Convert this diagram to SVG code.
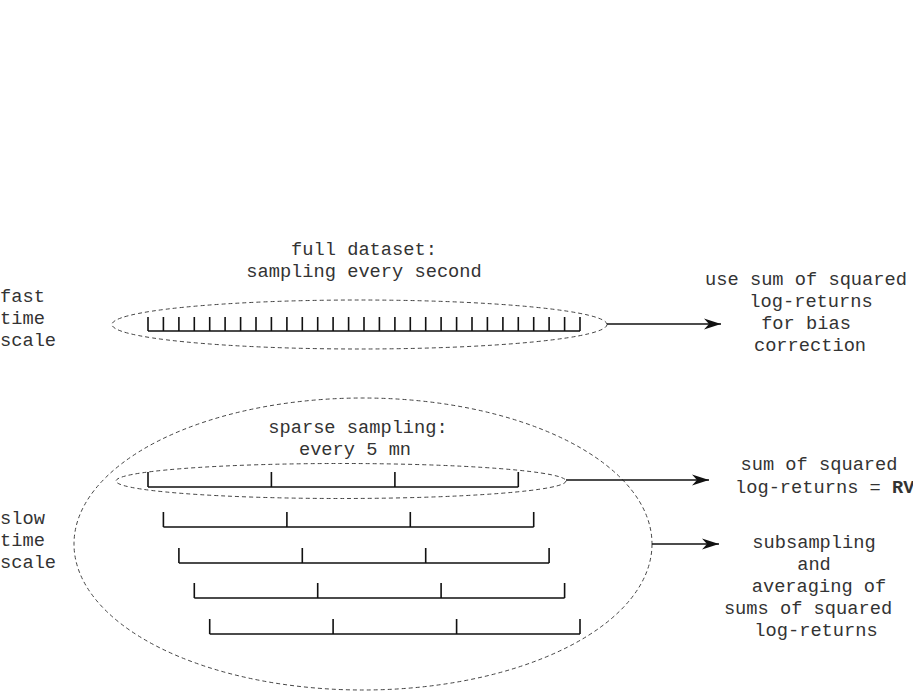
<svg xmlns="http://www.w3.org/2000/svg" width="913" height="691" viewBox="0 0 913 691">
<style>
text{font-family:"Liberation Mono","Courier New",monospace;font-size:18.7px;fill:#333}
.m{text-anchor:middle}
.dash{fill:none;stroke:#444;stroke-width:1;stroke-dasharray:4 3}
.tl{fill:none;stroke:#111;stroke-width:1.6}
.ar{fill:none;stroke:#111;stroke-width:1.5;marker-end:url(#ah)}
</style>
<defs>
<marker id="ah" markerWidth="18" markerHeight="14" refX="17" refY="7" orient="auto" markerUnits="userSpaceOnUse">
<path d="M0,1.5 L17,7 L0,12.5 L5,7 Z" fill="#111"/>
</marker>
</defs>
<rect width="913" height="691" fill="#fff"/>

<g id="fast-label"><text x="0" y="302">fast</text><text x="0" y="324">time</text><text x="0" y="346">scale</text></g>
<g id="slow-label"><text x="0" y="524">slow</text><text x="0" y="546">time</text><text x="0" y="568">scale</text></g>

<g id="full-dataset">
<text class="m" x="364" y="255">full dataset:</text>
<text class="m" x="364" y="277">sampling every second</text>
<ellipse class="dash" cx="359.5" cy="324.5" rx="247.5" ry="24.5"/>
<path class="tl" d="M148,331 H580 M148.0,317V331 M163.4,317V331 M178.9,317V331 M194.3,317V331 M209.7,317V331 M225.1,317V331 M240.6,317V331 M256.0,317V331 M271.4,317V331 M286.9,317V331 M302.3,317V331 M317.7,317V331 M333.1,317V331 M348.6,317V331 M364.0,317V331 M379.4,317V331 M394.9,317V331 M410.3,317V331 M425.7,317V331 M441.1,317V331 M456.6,317V331 M472.0,317V331 M487.4,317V331 M502.9,317V331 M518.3,317V331 M533.7,317V331 M549.1,317V331 M564.6,317V331 M580.0,317V331"/>
</g>

<g id="bias-text">
<text class="m" x="806" y="285">use sum of squared</text>
<text class="m" x="811" y="307">log-returns</text>
<text class="m" x="806" y="329">for bias</text>
<text class="m" x="810" y="351">correction</text>
</g>

<g id="subsampling">
<ellipse class="dash" cx="363" cy="544" rx="289" ry="146"/>
<text class="m" x="358" y="433">sparse sampling:</text>
<text class="m" x="355" y="455">every 5 mn</text>
<ellipse class="dash" cx="341" cy="481" rx="225" ry="17.5"/>
<path class="tl" d="M148,487 H518.3 M148,472V487 M271.4,472V487 M394.9,472V487 M518.3,472V487"/>
<path class="tl" d="M163.4,527 H533.7 M163.4,512V527 M286.9,512V527 M410.3,512V527 M533.7,512V527"/>
<path class="tl" d="M178.9,563 H549.1 M178.9,548V563 M302.3,548V563 M425.7,548V563 M549.1,548V563"/>
<path class="tl" d="M194.3,598 H564.6 M194.3,583V598 M317.7,583V598 M441.1,583V598 M564.6,583V598"/>
<path class="tl" d="M209.7,634 H580 M209.7,619V634 M333.1,619V634 M456.6,619V634 M580,619V634"/>
</g>

<g id="rv-text">
<text class="m" x="819" y="470">sum of squared</text>
<text x="735" y="493">log-returns = <tspan font-weight="bold">RV</tspan></text>
</g>

<g id="avg-text">
<text class="m" x="814" y="548">subsampling</text>
<text class="m" x="814" y="570">and</text>
<text class="m" x="819" y="592">averaging of</text>
<text class="m" x="808" y="614">sums of squared</text>
<text class="m" x="816" y="636">log-returns</text>
</g>

<g id="connectors">
<path class="ar" d="M607,324 H721"/>
<path class="ar" d="M566,480 H709"/>
<path class="ar" d="M652,544 H719"/>
</g>
</svg>
